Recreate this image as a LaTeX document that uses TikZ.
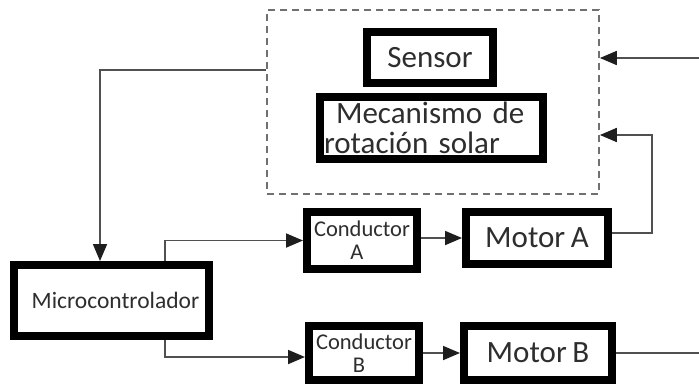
\documentclass[tikz,border=0pt]{standalone}
\usepackage{fontspec}
\setmainfont{Carlito}[WordSpace=0.8]
\usetikzlibrary{arrows.meta}
\definecolor{lncol}{HTML}{505050}
\definecolor{tipcol}{HTML}{1e1e1e}
\definecolor{txcol}{HTML}{2e2e2e}
\definecolor{dshcol}{HTML}{707070}
\tikzset{
  blk/.style={draw=black, line width=8pt, fill=white, inner sep=0pt, text=txcol, align=center},
  big/.style={font=\fontsize{31}{30}\selectfont},
  small/.style={font=\fontsize{22.5}{24}\selectfont},
  conn/.style={draw=lncol, line width=1.8pt, -{Triangle[length=17pt 0,width=14pt 0,color=tipcol]}},
  plain/.style={draw=lncol, line width=1.8pt},
  grpbox/.style={draw=dshcol, line width=1.8pt, dash pattern=on 7pt off 5pt, inner sep=0pt}
}
\begin{document}
\begin{tikzpicture}[x=1pt,y=-1pt]
\useasboundingbox[fill=white] (0,0) rectangle (699,388);
\node[grpbox, minimum width=332pt, minimum height=184pt] (grp) at (433,102) {};
\node[blk, big, minimum width=126pt, minimum height=51pt] (sensor) at (430,57.5) {Sensor};
\node[blk, big, minimum width=223pt, minimum height=62pt, text width=215pt, align=left] (mec) at (431.5,128) {\hspace*{12pt}Mecanismo de\\rotación solar};
\node[blk, font=\fontsize{23.5}{24}\selectfont, minimum width=195pt, minimum height=71pt] (micro) at (111.5,300.5) {\hspace*{8pt}Microcontrolador};
\node[blk, small, minimum width=110pt, minimum height=57pt] (condA) at (362,240.5) {Conductor\\[-1pt]\hspace*{-10pt}A};
\node[blk, big, minimum width=142pt, minimum height=52pt] (motA) at (537,238) {Motor A};
\node[blk, small, minimum width=110pt, minimum height=54pt] (condB) at (364,353) {Conductor\\[-1pt]\hspace*{-10pt}B};
\node[blk, big, minimum width=148pt, minimum height=54pt] (motB) at (538,353) {Motor B};
\coordinate (l1) at (0,70);
\coordinate (ra) at (652,135);
\coordinate (rb) at (699,353);
\coordinate (rt) at (699,58);
\draw[conn] (grp.west |- l1) -| ([xshift=-11.5pt]micro.north);
\draw[conn] ([xshift=53.5pt]micro.north) |- (condA.west);
\draw[conn] ([xshift=53.5pt]micro.south) |- ([yshift=-4pt]condB.west);
\draw[conn] (condA.east |- motA.west) -- (motA.west);
\draw[conn] (condB.east) -- (condB.east -| motB.west);
\draw[conn] ([yshift=5pt]motA.east) -| (ra) -- (grp.east |- ra);
\draw[plain] (motB.east) -- (rb);
\draw[conn] (rt) -- (grp.east |- rt);
\end{tikzpicture}
\end{document}
